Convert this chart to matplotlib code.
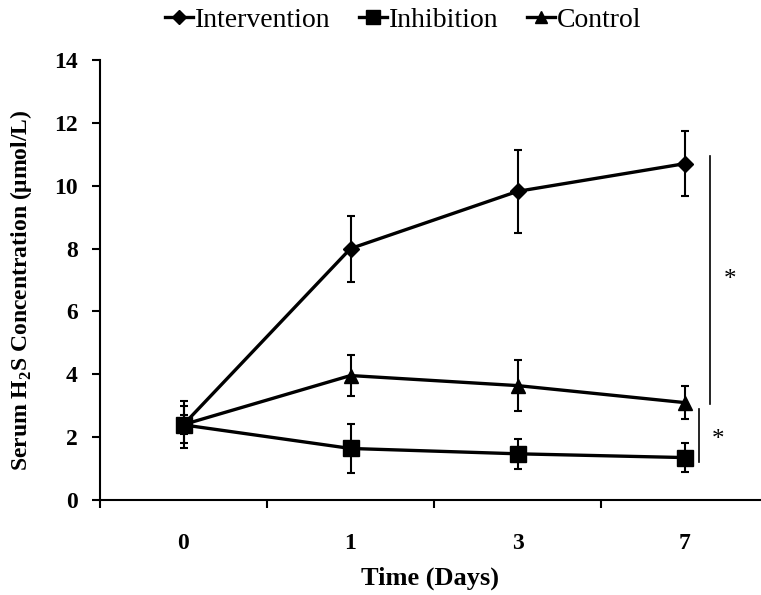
import numpy as np
import matplotlib
matplotlib.use("Agg")
import matplotlib.pyplot as plt

plt.rcParams["font.family"] = ["Liberation Serif", "DejaVu Serif"]
plt.rcParams["mathtext.fontset"] = "custom"
plt.rcParams["mathtext.rm"] = "Liberation Serif"
plt.rcParams["mathtext.bf"] = "Liberation Serif:bold"

days = ["0", "1", "3", "7"]
intervention = [2.4, 8.0, 9.82, 10.7]
intervention_err = [0.75, 1.05, 1.33, 1.04]
inhibition = [2.39, 1.64, 1.47, 1.35]
inhibition_err = [0.3, 0.77, 0.47, 0.45]
control = [2.4, 3.96, 3.64, 3.1]
control_err = [0.58, 0.64, 0.82, 0.53]

fig = plt.figure(figsize=(7.61, 5.95), dpi=100)
ax = fig.add_axes([100 / 761, 95 / 595, 668 / 761, 440 / 595])

x = np.arange(len(days))
series = [
    ("Intervention", intervention, intervention_err, "D", 8),
    ("Control", control, control_err, "^", 10),
    ("Inhibition", inhibition, inhibition_err, "s", 11),
]
handles = {}
for name, vals, err, mk, ms in series:
    ax.errorbar(x, vals, yerr=err, fmt="none", ecolor="black", elinewidth=1.5,
                capsize=3, capthick=1.5, zorder=2)
    h, = ax.plot(x, vals, color="black", lw=2.4, marker=mk, markersize=ms,
                 markerfacecolor="black", markeredgecolor="black", zorder=3, label=name)
    handles[name] = h

# significance brackets
ax.plot([3.15, 3.15], [10.95, 3.06], color="black", lw=1.2, clip_on=False)
ax.text(3.27, 7.0, "*", fontsize=18, ha="center", va="center")
ax.plot([3.085, 3.085], [2.9, 1.2], color="black", lw=1.2, clip_on=False)
ax.text(3.2, 1.9, "*", fontsize=18, ha="center", va="center")

ax.set_xlim(-0.5, 3.5)
ax.set_ylim(0, 14)
ax.set_yticks(np.arange(0, 15, 2))
ax.set_xticks(x)
ax.set_xticklabels(days)
ax.set_xticks([-0.5, 0.5, 1.5, 2.5], minor=True)
ax.tick_params(axis="x", which="major", length=0, pad=24, labelsize=17)
ax.tick_params(axis="x", which="minor", length=6, width=1.5, direction="out")
ax.tick_params(axis="y", length=6, width=1.5, direction="out", labelsize=17, pad=10)
for lab in ax.get_xticklabels() + ax.get_yticklabels():
    lab.set_fontweight("bold")

for s in ["top", "right"]:
    ax.spines[s].set_visible(False)
ax.spines["left"].set_linewidth(1.5)
ax.spines["bottom"].set_linewidth(1.5)

ax.set_xlabel("Time (Days)", fontsize=19, fontweight="bold")
ax.xaxis.set_label_coords(0.494, -0.152)
ax.set_ylabel(r"Serum H$_{\mathbf{2}}$S Concentration (μmol/L)", fontsize=17,
              fontweight="bold")
ax.yaxis.set_label_coords(-0.099, 0.477)

fig.legend([handles["Intervention"], handles["Inhibition"], handles["Control"]],
           ["Intervention", "Inhibition", "Control"],
           loc="upper center", bbox_to_anchor=(0.53, 1.03), ncol=3, frameon=False,
           fontsize=20, handlelength=1.0, handletextpad=0.1, columnspacing=1.0,
           markerscale=0.9)

plt.savefig("out.png", dpi=100)
plt.close()
